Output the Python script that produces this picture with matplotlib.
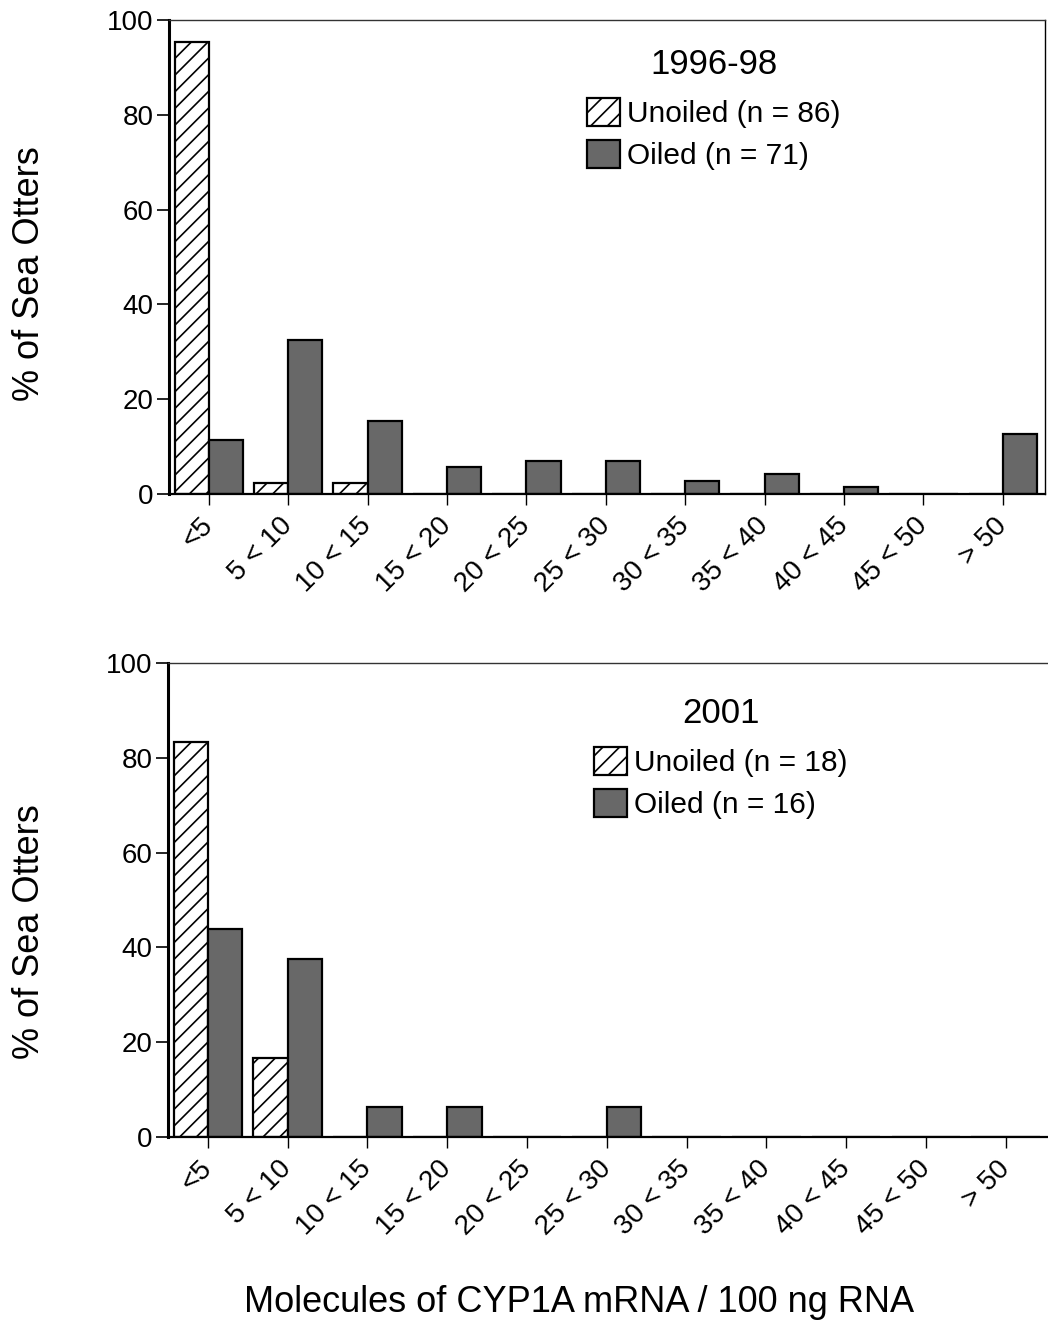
import matplotlib
matplotlib.use("Agg")
import matplotlib.pyplot as plt
import numpy as np
from matplotlib.patches import Patch

plt.rcParams["font.family"] = ["Liberation Sans", "DejaVu Sans"]
plt.rcParams["hatch.linewidth"] = 1.2

bins = ["<5", "5 < 10", "10 < 15", "15 < 20", "20 < 25", "25 < 30",
        "30 < 35", "35 < 40", "40 < 45", "45 < 50", "> 50"]

# 1996-98
unoiled_9698 = [95.3, 2.3, 2.3, 0, 0, 0, 0, 0, 0, 0, 0]
oiled_9698 = [11.3, 32.4, 15.5, 5.6, 7.0, 7.0, 2.8, 4.2, 1.4, 0, 12.7]
# 2001
unoiled_2001 = [83.3, 16.7, 0, 0, 0, 0, 0, 0, 0, 0, 0]
oiled_2001 = [43.8, 37.5, 6.3, 6.3, 0, 6.3, 0, 0, 0, 0, 0]

panels = [
    ("1996-98", "Unoiled (n = 86)", "Oiled (n = 71)", unoiled_9698, oiled_9698),
    ("2001", "Unoiled (n = 18)", "Oiled (n = 16)", unoiled_2001, oiled_2001),
]

W, H = 1048, 1327
fig = plt.figure(figsize=(W / 100, H / 100), dpi=100)

# axes boxes in pixels: left, top, right, bottom
boxes = [(169, 20, 1045, 494), (168, 663, 1048, 1137)]
leg_pos = [(587, 48), (594, 697)]

grey = "#686868"
bw = 0.43
x = np.arange(len(bins))

for i, (title, lab_u, lab_o, unoiled, oiled) in enumerate(panels):
    l, t, r, b = boxes[i]
    ax = fig.add_axes([l / W, 1 - b / H, (r - l) / W, (b - t) / H])
    ax.bar(x - bw / 2, unoiled, bw, color="white", edgecolor="black",
           hatch="//", linewidth=1.6, label=lab_u)
    ax.bar(x + bw / 2, oiled, bw, color=grey, edgecolor="black",
           linewidth=1.6, label=lab_o)
    ax.set_xlim(-0.5, 10.53)
    ax.set_ylim(0, 100)
    ax.set_yticks([0, 20, 40, 60, 80, 100])
    ax.set_xticks(x)
    ax.set_xticklabels(bins, rotation=45, ha="right", va="center",
                       rotation_mode="anchor", fontsize=20)
    ax.tick_params(axis="y", labelsize=20, length=9, width=1.2, pad=2)
    ax.tick_params(axis="x", length=8, width=1.0, pad=12)
    ax.spines["left"].set_linewidth(2.2)
    ax.spines["bottom"].set_linewidth(1.6)
    ax.spines["top"].set_linewidth(1.0)
    ax.spines["top"].set_color("#333333")
    if i == 0:
        ax.spines["right"].set_linewidth(1.0)
    else:
        ax.spines["right"].set_visible(False)

    lx, ly = leg_pos[i]
    handles = [Patch(facecolor="white", edgecolor="black", hatch="//", linewidth=1.6),
               Patch(facecolor=grey, edgecolor="black", linewidth=1.6)]
    leg = ax.legend(handles, [lab_u, lab_o], title=title, frameon=False,
                    loc="upper left",
                    bbox_to_anchor=((lx - l) / (r - l), 1 - (ly - t) / (b - t)),
                    borderaxespad=0, borderpad=0, fontsize=21.5,
                    title_fontsize=25, handlelength=1.1, handleheight=1.1,
                    handletextpad=0.25, labelspacing=0.38)
    leg._legend_box.sep = 12

fig.text(30 / W, 1 - 274 / H, "% of Sea Otters", rotation=90,
         ha="center", va="center", fontsize=26)
fig.text(30 / W, 1 - 932 / H, "% of Sea Otters", rotation=90,
         ha="center", va="center", fontsize=26)
fig.text(579 / W, 1 - 1303 / H, "Molecules of CYP1A mRNA / 100 ng RNA",
         ha="center", va="center", fontsize=26)

fig.savefig("out.png", dpi=100)
